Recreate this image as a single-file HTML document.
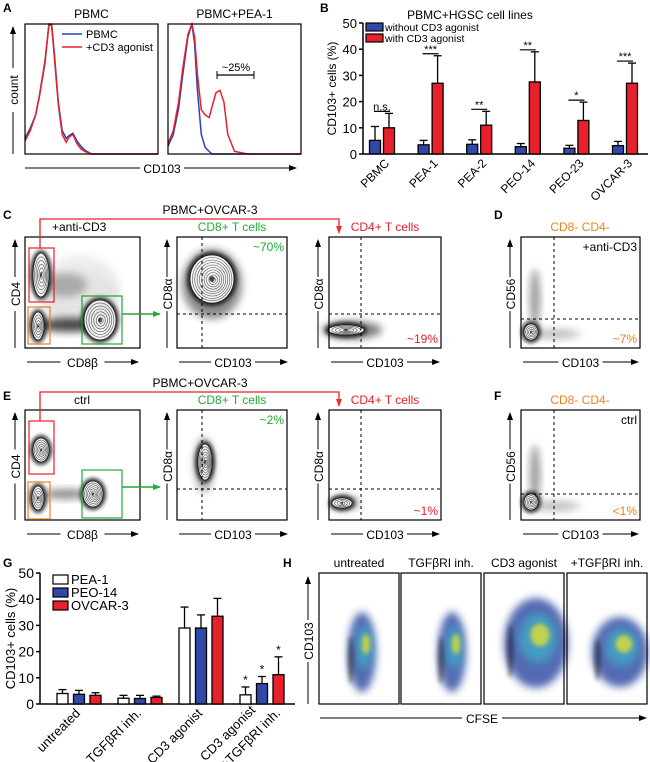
<!DOCTYPE html>
<html><head><meta charset="utf-8"><style>
html,body{margin:0;padding:0;background:#fff}
svg{display:block;font-family:"Liberation Sans",sans-serif}
</style></head><body>
<svg id="fig" width="650" height="762" viewBox="0 0 650 762" xmlns="http://www.w3.org/2000/svg">
<defs>
<filter id="b2" x="-50%" y="-50%" width="200%" height="200%"><feGaussianBlur stdDeviation="2"/></filter>
<filter id="b4" x="-50%" y="-50%" width="200%" height="200%"><feGaussianBlur stdDeviation="4"/></filter>
<marker id="ah" markerWidth="8" markerHeight="8" refX="7" refY="4" orient="auto" markerUnits="userSpaceOnUse"><path d="M0,1 L8,4 L0,7 Z" fill="#000"/></marker>
<marker id="ahr" markerWidth="8" markerHeight="8" refX="7" refY="4" orient="auto" markerUnits="userSpaceOnUse"><path d="M0,1 L8,4 L0,7 Z" fill="#e32"/></marker>
<marker id="ahg" markerWidth="8" markerHeight="8" refX="7" refY="4" orient="auto" markerUnits="userSpaceOnUse"><path d="M0,1 L8,4 L0,7 Z" fill="#2a3"/></marker>
</defs>
</svg>
<script>
// ---------- Panel B data ----------
const bCats = ["PBMC","PEA-1","PEA-2","PEO-14","PEO-23","OVCAR-3"];
const bWithout = [5.2,3.5,3.7,2.8,2.2,3.2];
const bWithoutErr = [5.3,1.7,1.7,1.2,1.1,1.6];
const bWith = [10,27,11,27.5,12.8,27];
const bWithErr = [5.5,10.5,5.3,11.5,7,7.7];
const bSig = ["n.s.","***","**","**","*","***"];
const bTicks = [0,10,20,30,40,50];
// ---------- Panel G data ----------
const gCats = ["untreated","TGFβRI inh.","CD3 agonist","CD3 agonist|+TGFβRI inh."];
const gPEA1 = [4,2.2,29,3.5];
const gPEA1Err = [1.5,1.1,8,3];
const gPEO14 = [3.7,2.1,29,7.8];
const gPEO14Err = [1.5,1.2,5,2.7];
const gOVCAR3 = [3.3,2.5,33.5,11.2];
const gOVCAR3Err = [1,0.5,6.8,6.8];
const gSig = ["","","","*"];
const gTicks = [0,10,20,30,40,50];
// ---------- Panel A histogram data (relative height at x fraction) ----------
const hX = [0,0.04,0.08,0.11,0.15,0.18,0.2,0.22,0.25,0.28,0.31,0.33,0.36,0.39,0.42,0.45,0.5,0.6,1];
const hPbmcBlue = [0.12,0.2,0.3,0.45,0.7,1.0,1.0,0.78,0.4,0.18,0.12,0.14,0.16,0.1,0.06,0.03,0,0,0];
const hPbmcRed  = [0.1,0.18,0.3,0.46,0.72,0.99,0.99,0.75,0.38,0.15,0.09,0.13,0.15,0.08,0.04,0.02,0,0,0];
const hPeaBlue  = [0.06,0.15,0.35,0.6,0.9,1.0,0.85,0.5,0.15,0.05,0.02,0,0,0,0,0,0,0,0];
const hPeaRed   = [0.08,0.18,0.4,0.65,0.92,1.0,0.9,0.62,0.34,0.3,0.28,0.36,0.47,0.49,0.4,0.15,0.02,0,0];

const S = document.getElementById('fig');
const NS = "http://www.w3.org/2000/svg";
function el(tag, attrs, parent, name, txt){
  const e = document.createElementNS(NS, tag);
  for (const k in attrs) e.setAttribute(k, attrs[k]);
  
  
  if (txt !== undefined) e.textContent = txt;
  (parent||S).appendChild(e);
  return e;
}
function text(x,y,t,size,name,opt){
  opt = opt||{};
  const a = {x:x,y:y,'font-size':size,fill:opt.fill||'#000','text-anchor':opt.anchor||'start'};
  if (opt.bold) a['font-weight']='bold';
  if (opt.rot!==undefined) a.transform='rotate('+opt.rot+' '+x+' '+y+')';
  return el('text',a,S,name,t);
}
function line(x1,y1,x2,y2,name,opt){
  opt=opt||{};
  const a={x1:x1,y1:y1,x2:x2,y2:y2,stroke:opt.stroke||'#000','stroke-width':opt.w||1};
  if(opt.dash) a['stroke-dasharray']=opt.dash;
  if(opt.marker) a['marker-end']='url(#'+opt.marker+')';
  return el('line',a,S,name);
}
function rect(x,y,w,h,name,opt){
  opt=opt||{};
  return el('rect',{x:x,y:y,width:w,height:h,fill:opt.fill||'none',stroke:opt.stroke||'#000','stroke-width':opt.w||1.2},S,name);
}
// panel letters
[["A",3,12],["B",320,12],["C",3,219],["D",494,219],["E",3,400],["F",494,400],["G",3,567],["H",283,567]].forEach(p=>text(p[1],p[2],p[0],12,'panel-label-'+p[0].toLowerCase(),{bold:true}));

// ================= Panel A =================
const aBoxes=[{x:25,t:"PBMC",blue:hPbmcBlue,red:hPbmcRed},{x:168,t:"PBMC+PEA-1",blue:hPeaBlue,red:hPeaRed}];
const aTop=24,aBot=154,aW=133;
aBoxes.forEach((b,i)=>{
  text(b.x+aW/2,18,b.t,12,'histogram-title-'+(i+1),{anchor:'middle'});
  function path(vals){
    return vals.map((v,j)=>(j?'L':'M')+(b.x+hX[j]*aW).toFixed(1)+','+(aBot-v*(aBot-aTop)).toFixed(1)).join(' ');
  }
  el('path',{d:path(b.blue),fill:'none',stroke:'#2a44b0','stroke-width':1.5},S,'histogram-pbmc-line-'+(i+1));
  el('path',{d:path(b.red),fill:'none',stroke:'#e8202a','stroke-width':1.5},S,'histogram-cd3-line-'+(i+1));
  rect(b.x,aTop,aW,aBot-aTop,'histogram-frame-'+(i+1));
});
line(13,154,13,27,'count-axis-arrow',{marker:'ah'});
el('rect',{x:8,y:68,width:10,height:44,fill:'#fff',stroke:'none'},S,'count-label-bg');
text(18,90,"count",12,'count-axis-label',{anchor:'middle',rot:-90});
line(25,168,296,168,'cd103-axis-arrow',{marker:'ah'});
el('rect',{x:140,y:160,width:44,height:16,fill:'#fff',stroke:'none'},S,'cd103-label-bg');
text(162,173,"CD103",12,'histogram-x-label',{anchor:'middle'});
line(62,34,82,34,'legend-pbmc-swatch',{stroke:'#2a44b0',w:1.5});
text(86,38,"PBMC",11,'legend-pbmc-text');
line(62,47,82,47,'legend-cd3-swatch',{stroke:'#e8202a',w:1.5});
text(86,51,"+CD3 agonist",11,'legend-cd3-text');
line(217,75,254,75,'percent-bracket',{w:1.2});
line(217,71,217,79,'bracket-left');line(254,71,254,79,'bracket-right');
text(236,71,"~25%",11,'percent-25-label',{anchor:'middle'});

// ================= Bar chart helper =================
function barChart(cfg){
  const yOf=v=>cfg.y0-(v/50)*(cfg.y0-cfg.y50);
  line(cfg.ax,cfg.y50,cfg.ax,cfg.y0,cfg.id+'-y-axis',{w:1.5});
  line(cfg.ax,cfg.y0,cfg.axEnd,cfg.y0,cfg.id+'-x-axis',{w:1.5});
  cfg.ticks.forEach(t=>{
    line(cfg.ax-4,yOf(t),cfg.ax,yOf(t),cfg.id+'-y-tick',{w:1.5});
    text(cfg.ax-6,yOf(t)+5,String(t),cfg.tickSize,cfg.id+'-y-tick-label',{anchor:'end'});
  });
  text(cfg.ylabX,(cfg.y0+cfg.y50)/2,"CD103+ cells (%)",cfg.labSize,cfg.id+'-y-axis-title',{anchor:'middle',rot:-90});
  cfg.cats.forEach((c,i)=>{
    const cx=cfg.c0+i*cfg.step;
    cfg.series.forEach((s,k)=>{
      const x=cx+cfg.offs[k]-cfg.bw/2, v=s.vals[i], e=s.err[i];
      line(x+cfg.bw/2,yOf(v),x+cfg.bw/2,yOf(v+e),cfg.id+'-errorbar',{w:1.3});
      line(x+cfg.bw/2-4,yOf(v+e),x+cfg.bw/2+4,yOf(v+e),cfg.id+'-errorcap',{w:1.3});
      rect(x,yOf(v),cfg.bw,cfg.y0-yOf(v),cfg.id+'-bar-'+s.key+'-'+i,{fill:s.fill,w:1.3});
    });
    cfg.drawCat(c,i,cx,yOf);
  });
}
// ================= Panel B =================
barChart({id:'b',cats:bCats,ax:363,axEnd:648,y0:154,y50:23,ticks:bTicks,tickSize:13,labSize:12,ylabX:336,
  c0:382,step:48.6,bw:11,offs:[-7,7],
  series:[{key:'without',vals:bWithout,err:bWithoutErr,fill:'#3048a8'},{key:'with',vals:bWith,err:bWithErr,fill:'#e8202a'}],
  drawCat:(c,i,cx,yOf)=>{
    const hy=yOf(bWith[i]+bWithErr[i])-2;
    line(cx-8,hy,cx+8,hy,'b-sig-line-'+i,{w:1.2});
    text(cx,hy-1,bSig[i],11,'b-sig-label-'+i,{anchor:'middle'});
    text(cx+8,164,c,12,'b-x-label-'+i,{anchor:'end',rot:-45});
  }});
text(470,19,"PBMC+HGSC cell lines",12,'b-title',{anchor:'middle'});
rect(366,23,17,8,'legend-without-swatch',{fill:'#3048a8'});
text(385,31,"without CD3 agonist",10.5,'legend-without-text');
rect(366,34,17,8,'legend-with-swatch',{fill:'#e8202a'});
text(385,42,"with CD3 agonist",10.5,'legend-with-text');

// ================= Panel G =================
barChart({id:'g',cats:gCats,ax:40,axEnd:295,y0:704,y50:573,ticks:gTicks,tickSize:14,labSize:13,ylabX:15,
  c0:79,step:61,bw:11,offs:[-16.5,0,16.5],
  series:[{key:'pea1',vals:gPEA1,err:gPEA1Err,fill:'#fff'},{key:'peo14',vals:gPEO14,err:gPEO14Err,fill:'#3048a8'},{key:'ovcar3',vals:gOVCAR3,err:gOVCAR3Err,fill:'#e8202a'}],
  drawCat:(c,i,cx,yOf)=>{
    if(gSig[i]){
      [[gPEA1,gPEA1Err,-16.5],[gPEO14,gPEO14Err,0],[gOVCAR3,gOVCAR3Err,16.5]].forEach((s,k)=>
        text(cx+s[2],yOf(s[0][i]+s[1][i])-3,gSig[i],12,'g-sig-star-'+k,{anchor:'middle'}));
    }
    const parts=c.split('|');
    if(parts.length===1) text(cx+2,714,parts[0],13,'g-x-label-'+i,{anchor:'end',rot:-45});
    else {
      text(cx-6,711,parts[0],13,'g-x-label-'+i+'-0',{anchor:'end',rot:-45});
      text(cx+19,714,parts[1],13,'g-x-label-'+i+'-1',{anchor:'end',rot:-45});
    }
  }});
[['PEA-1','#fff'],['PEO-14','#3048a8'],['OVCAR-3','#e8202a']].forEach((l,k)=>{
  rect(53,575+k*13,15,9,'g-legend-swatch-'+k,{fill:l[1]});
  text(71,584+k*13,l[0],13,'g-legend-text-'+k);
});

// ================= Flow plots =================
function blob(cx,cy,rx,ry,op,blur,name,fill){
  el('ellipse',{cx:cx,cy:cy,rx:rx,ry:ry,fill:fill||'#000','fill-opacity':op,filter:'url(#'+blur+')'},S,name);
}
function contours(cx,cy,rx,ry,n,name){
  el('ellipse',{cx:cx,cy:cy,rx:rx+2.5,ry:ry+2.5,fill:'#111',filter:'url(#b2)'},S,name+'-outer');
  el('ellipse',{cx:cx,cy:cy,rx:rx,ry:ry,fill:'#f4f4f4',stroke:'#222','stroke-width':0.8},S,name+'-body');
  for(let k=1;k<n;k++){
    const f=1-k/n;
    el('ellipse',{cx:cx+(k*0.15),cy:cy+(k*0.1),rx:rx*f,ry:ry*f,fill:'none',stroke:'#555','stroke-width':0.6},S,name+'-contour-'+k);
  }
  el('ellipse',{cx:cx,cy:cy,rx:Math.max(1,rx*0.12),ry:Math.max(1,ry*0.12),fill:'#444'},S,name+'-center');
}
function yAxisArrow(x,yb,yt,lab,name){
  line(x,yb,x,yt,name+'-arrow',{marker:'ah'});
  const m=(yb+yt)/2;
  el('rect',{x:x-7,y:m-17,width:14,height:34,fill:'#fff'},S,name+'-bg');
  text(x+5,m,lab,12,name+'-label',{anchor:'middle',rot:-90});
}
function xAxisArrow(x1,x2,y,lab,name){
  line(x1,y,x2,y,name+'-arrow',{marker:'ah'});
  const m=(x1+x2)/2;
  el('rect',{x:m-22,y:y-8,width:44,height:16,fill:'#fff'},S,name+'-bg');
  text(m,y+5,lab,12,name+'-label',{anchor:'middle'});
}
function flowRow(top,bot,ctrl){
  const r=ctrl?'e':'c', h=bot-top;
  if(!ctrl){ blob(80,290,40,35,0.07,'b4',r+'-scatter-bg'); blob(68,325,30,7,0.7,'b4',r+'-smear'); blob(65,285,22,12,0.25,'b4',r+'-diag'); }
  else { blob(80,300,40,30,0.04,'b4',r+'-scatter-bg'); blob(65,494,22,5,0.45,'b4',r+'-smear'); }
  contours(41,ctrl?450:275,8,ctrl?12:22,6,r+'-cd4-pop');
  contours(38,ctrl?498:326,6,ctrl?12:14,5,r+'-dn-pop');
  contours(ctrl?93:100,ctrl?494:320,ctrl?10:16,ctrl?13:20,7,r+'-cd8-pop');
  rect(25,top,115,h,r+'-gate-plot-frame');
  rect(29,top+11,25,ctrl?53:54,r+'-cd4-gate',{stroke:'#e8202a'});
  rect(28,top+(ctrl?72:70),22,37,r+'-dn-gate',{stroke:'#f08020'});
  rect(82,top+(ctrl?60:59),40,48,r+'-cd8-gate',{stroke:'#2a3'});
  line(122,top+77,160,top+77,r+'-cd8-gate-arrow',{stroke:'#2a3',w:1.5,marker:'ahg'});
  el('path',{d:'M40,'+(top+11)+' V'+(top-18)+' H339 V'+(top-4),fill:'none',stroke:'#e8202a','stroke-width':1.3,'marker-end':'url(#ahr)'},S,r+'-cd4-gate-link');
  text(ctrl?200:210,top-23,"PBMC+OVCAR-3",12,r+'-row-title',{anchor:'middle'});
  text(ctrl?82:52,top-6,ctrl?"ctrl":"+anti-CD3",12,r+'-condition-label',{anchor:ctrl?'middle':'start'});
  yAxisArrow(15,bot,top+3,"CD4",r+'-cd4-axis');
  xAxisArrow(27,138,bot+14,"CD8β",r+'-cd8b-axis');
  const hz=ctrl?489:314;
  if(!ctrl){ blob(212,284,30,35,0.45,'b4',r+'-cd8-cloud'); contours(212,279,22,24,10,r+'-cd8t-pop'); }
  else { blob(204,465,10,28,0.3,'b4',r+'-cd8-cloud'); contours(205,462,7,18,7,r+'-cd8t-pop'); }
  line(202,top,202,bot,r+'-cd8-vgate',{dash:'3,3'});
  line(177,hz,287,hz,r+'-cd8-hgate',{dash:'3,3'});
  rect(177,top,110,h,r+'-cd8-plot-frame');
  text(232,top-6,"CD8+ T cells",12,r+'-cd8-title',{anchor:'middle',fill:'#2a3'});
  text(284,top+14,ctrl?"~2%":"~70%",12,r+'-cd8-percent',{anchor:'end',fill:'#2a3'});
  yAxisArrow(167,bot,top+3,"CD8α",r+'-cd8a-axis-1');
  xAxisArrow(179,287,bot+14,"CD103",r+'-cd103-axis-1');
  if(!ctrl){ blob(352,330,30,9,0.5,'b4',r+'-cd4-cloud'); contours(346,330,18,5,5,r+'-cd4t-pop'); }
  else { blob(345,503,15,7,0.35,'b4',r+'-cd4-cloud'); contours(342,503,10,5,4,r+'-cd4t-pop'); }
  line(361,top,361,bot,r+'-cd4-vgate',{dash:'3,3'});
  line(329,hz,441,hz,r+'-cd4-hgate',{dash:'3,3'});
  rect(329,top,112,h,r+'-cd4-plot-frame');
  text(385,top-6,"CD4+ T cells",12,r+'-cd4-title',{anchor:'middle',fill:'#e8202a'});
  text(438,bot-5,ctrl?"~1%":"~19%",12,r+'-cd4-percent',{anchor:'end',fill:'#e8202a'});
  yAxisArrow(318,bot,top+3,"CD8α",r+'-cd8a-axis-2');
  xAxisArrow(331,439,bot+14,"CD103",r+'-cd103-axis-2');
  const hz2=ctrl?494:319, f=ctrl?'f':'d';
  blob(535,top+(ctrl?65:62),5,30,0.4,'b4',f+'-cd56-smear');
  blob(555,bot-14,25,5,0.25,'b4',f+'-cd103-smear');
  contours(531,bot-(ctrl?18:16),7,8,5,f+'-dn-pop');
  line(554,top,554,bot,f+'-vgate',{dash:'3,3'});
  line(521,hz2,640,hz2,f+'-hgate',{dash:'3,3'});
  rect(521,top,119,h,f+'-plot-frame');
  text(580,top-6,"CD8- CD4-",12,f+'-title',{anchor:'middle',fill:'#f08020'});
  text(637,top+14,ctrl?"ctrl":"+anti-CD3",12,f+'-condition-label',{anchor:'end'});
  text(637,bot-5,ctrl?"<1%":"~7%",12,f+'-percent',{anchor:'end',fill:'#f08020'});
  yAxisArrow(510,bot,top+3,"CD56",f+'-cd56-axis');
  xAxisArrow(523,638,bot+14,"CD103",f+'-cd103-axis');
}
flowRow(237,348,false);
flowRow(410,520,true);

// ================= Panel H =================
const hPanels=[{x:319,t:"untreated",cx:362,cy:652,rx:14,ry:40},{x:401,t:"TGFβRI inh.",cx:452,cy:652,rx:14,ry:40},{x:484,t:"CD3 agonist",cx:536,cy:643,rx:32,ry:45},{x:567,t:"+TGFβRI inh.",cx:620,cy:652,rx:28,ry:35}];
const hTop=573,hBot=704;
hPanels.forEach((p,i)=>{
  text(p.x+40,567,p.t,12,'h-title-'+i,{anchor:'middle'});
  blob(p.cx,p.cy,p.rx,p.ry,0.75,'b4','h-cloud-outer-'+i,'#1c3a9a');
  blob(p.cx+2,p.cy-5,p.rx*0.6,p.ry*0.55,0.7,'b4','h-cloud-mid-'+i,'#3ab0c8');
  blob(p.cx+4,p.cy-8,p.rx*0.3,p.ry*0.25,0.8,'b2','h-cloud-core-'+i,'#e0e030');
  blob(p.cx-p.rx*0.8,p.cy+8,3,p.ry*0.6,0.45,'b2','h-cloud-left-'+i,'#000');
  rect(p.x,hTop,80,hBot-hTop,'h-plot-frame-'+i);
});
line(308,704,308,577,'h-cd103-arrow',{marker:'ah'});
el('rect',{x:301,y:620,width:14,height:42,fill:'#fff'},S,'h-cd103-bg');
text(313,641,"CD103",12,'h-y-axis-label',{anchor:'middle',rot:-90});
line(320,718,646,718,'h-cfse-arrow',{marker:'ah'});
el('rect',{x:462,y:710,width:40,height:16,fill:'#fff'},S,'h-cfse-bg');
text(482,723,"CFSE",12,'h-x-axis-label',{anchor:'middle'});
</script>
</body></html>
